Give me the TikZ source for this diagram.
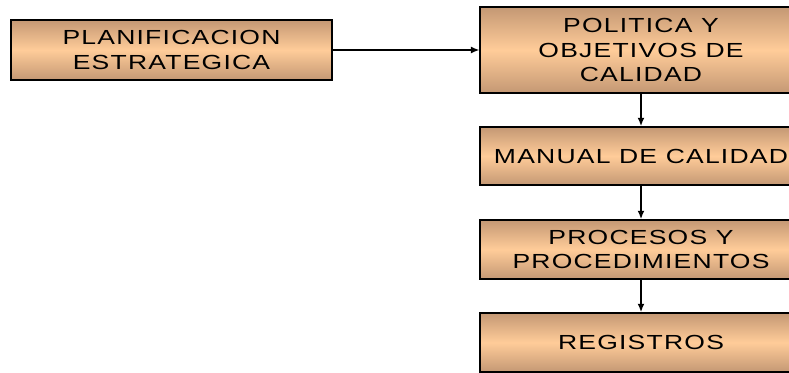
\documentclass[tikz,border=0pt]{standalone}
\usepackage{fontspec}
\usetikzlibrary{arrows.meta}
\newfontfamily\boxfont[FakeStretch=1.3,LetterSpace=6]{Liberation Sans}
\definecolor{boxmid}{RGB}{255,204,153}
\definecolor{boxedge}{RGB}{196,152,116}

\begin{document}
\begin{tikzpicture}[
  x = 0.025cm,
  y = -0.025cm,
  stage/.style = {
    shape = rectangle,
    draw = black,
    line width = 1.1pt,
    top color = boxedge,
    bottom color = boxedge,
    middle color = boxmid,
    inner sep = 0pt,
    align = center,
    font = \boxfont\fontsize{14.5}{17.5}\selectfont
  },
  link/.style = {
    draw = black,
    -{Latex[length=6pt,width=5pt]}
  }
]
  \clip (0, 0) rectangle (789, 373);
  \useasboundingbox (0, 0) rectangle (789, 373);

  \node[stage, minimum width = 321*0.025cm, minimum height = 60*0.025cm]
    (plan) at (171.5, 50) {PLANIFICACION\\ESTRATEGICA};

  \node[stage, minimum width = 322*0.025cm, minimum height = 86*0.025cm]
    (pol) at (641, 50) {POLITICA Y\\OBJETIVOS DE\\CALIDAD};
  \node[stage, minimum width = 322*0.025cm, minimum height = 58*0.025cm]
    (man) at (641, 156) {MANUAL DE CALIDAD};
  \node[stage, minimum width = 322*0.025cm, minimum height = 59*0.025cm]
    (proc) at (641, 249.5) {PROCESOS Y\\PROCEDIMIENTOS};
  \node[stage, minimum width = 322*0.025cm, minimum height = 59*0.025cm]
    (reg) at (641, 342.5) {REGISTROS};

  \draw[link, line width = 0.8pt] (plan) -- (pol);
  \draw[link, line width = 1.3pt] (pol) -- (man);
  \draw[link, line width = 1.3pt] (man) -- (proc);
  \draw[link, line width = 1.3pt] (proc) -- (reg);
\end{tikzpicture}
\end{document}
